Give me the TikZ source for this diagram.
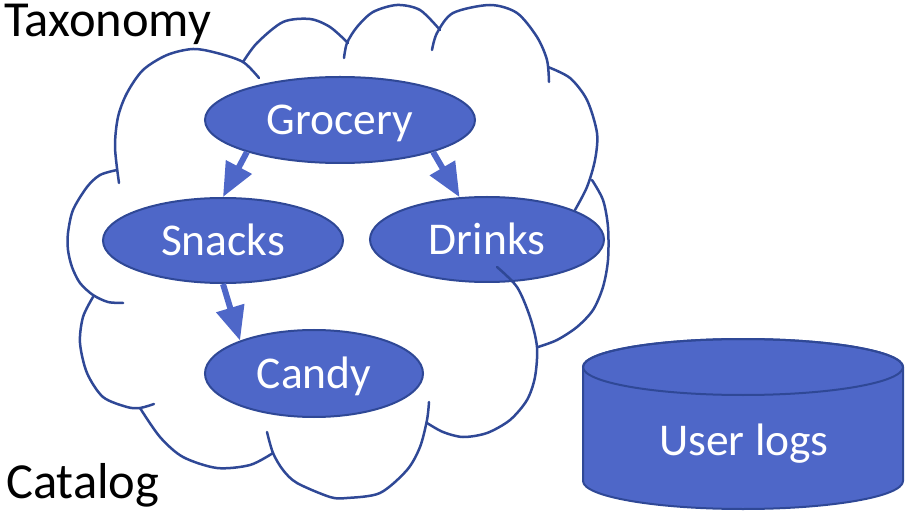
\documentclass[tikz,border=0pt]{standalone}
\usepackage{fontspec}
\setmainfont{Carlito}
\usetikzlibrary{arrows.meta,shapes.geometric}
\definecolor{nodefill}{RGB}{78,103,200}
\definecolor{nodeline}{RGB}{47,72,150}
\definecolor{cloudline}{RGB}{47,72,150}
\begin{document}
\begin{tikzpicture}[x=1bp,y=-1bp,
  catnode/.style={ellipse, fill=nodefill, draw=nodeline, line width=2bp, text=white,
    font=\fontsize{45.5bp}{52bp}\selectfont, inner sep=0pt, text height=30bp, text depth=0bp},
  bump/.style={draw=cloudline, line width=2.5bp, line cap=round},
  link/.style={draw=nodefill, line width=6bp, -{Triangle[length=34bp,width=28bp,fill=nodefill]}},
  title/.style={font=\fontsize{50.5bp}{58bp}\selectfont, anchor=base west, inner sep=0pt}]
\useasboundingbox (0,0) rectangle (907,511);
% cloud bumps
\draw[bump] plot[smooth] coordinates {(119,183) (115,147) (118,117) (127,93) (143,70) (167,55) (193,49) (217,53) (243,62) (259,78)};
\draw[bump] plot[smooth] coordinates {(243,62) (257,43) (283,22) (310,19) (330,27) (348,43)};
\draw[bump] plot[smooth] coordinates {(344,58) (347,43) (357,27) (373,12) (397,5) (420,10) (440,30)};
\draw[bump] plot[smooth] coordinates {(432,50) (437,33) (453,13) (490,5) (517,13) (537,37) (547,60) (549,82)};
\draw[bump] plot[smooth] coordinates {(548,67) (570,78) (587,100) (597,133) (595,160) (587,187) (575,210)};
\draw[bump] plot[smooth] coordinates {(592,180) (603,200) (608,227) (608,260) (603,287) (593,310) (577,327) (557,340) (538,347)};
\draw[bump] plot[smooth] coordinates {(429,402) (427,420) (420,447) (407,470) (380,493) (347,498) (330,497) (297,483) (283,470) (273,453) (267,432)};
\draw[bump] plot[smooth] coordinates {(273,453) (250,465) (217,468) (183,457) (160,437) (140,408)};
\draw[bump] plot[smooth] coordinates {(93,297) (83,317) (80,343) (87,373) (103,397) (127,407) (140,408) (154,404)};
\draw[bump] plot[smooth] coordinates {(117,170) (100,175) (87,187) (73,210) (68,233) (68,250) (72,267) (80,283) (93,295) (108,302) (123,303)};
% category nodes
\node[catnode, minimum width=270bp, minimum height=86bp] (G) at (340,120) {Grocery};
\node[catnode, minimum width=240bp, minimum height=85bp] (S) at (223,240.5) {Snacks};
\node[catnode, minimum width=234bp, minimum height=85bp] (D) at (487,239.5) {Drinks};
\node[catnode, minimum width=218bp, minimum height=87bp] (C) at (314,373.5) {Candy};
% bump drawn over Drinks
\draw[bump] plot[smooth] coordinates {(497,267) (517,287) (530,317) (537,347) (535,377) (527,400) (510,420) (487,433) (463,437) (443,432) (427,423)};
% arrows
\draw[link] (G.199) -- (S.north);
\draw[link] (G.341.6) -- (D.123.4);
\draw[link] (S.south) -- (C.156);
% cylinder
\filldraw[fill=nodefill, draw=nodeline, line width=2bp]
  (583,367) -- (583,481) arc[start angle=180, end angle=0, x radius=160, y radius=28]
  -- (903,367) arc[start angle=0, end angle=-180, x radius=160, y radius=28] -- cycle;
\draw[nodeline, line width=2bp] (743,367) ellipse[x radius=160, y radius=28];
\node[anchor=base, inner sep=0pt, text=white, font=\fontsize{45.5bp}{52bp}\selectfont] (U) at (744,455) {User logs};
% titles
\node[title] (tax) at (4,37) {Taxonomy};
\node[title] (catl) at (6,498) {Catalog};
\end{tikzpicture}
\end{document}
